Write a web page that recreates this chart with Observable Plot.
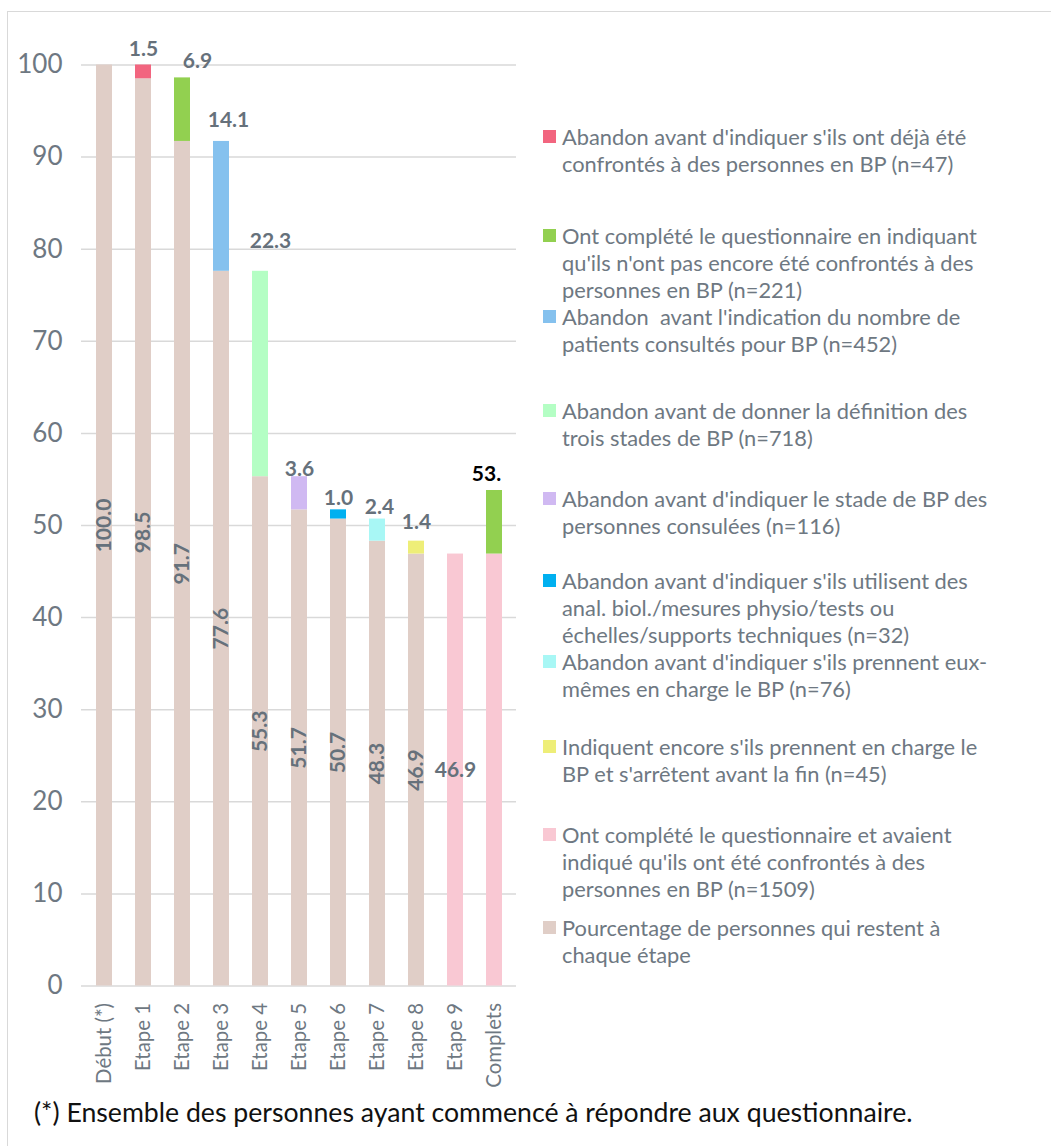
<!DOCTYPE html>
<html><head><meta charset="utf-8">
<script src="https://cdn.jsdelivr.net/npm/d3@7"></script>
<script src="https://cdn.jsdelivr.net/npm/@observablehq/plot@0.6"></script>
<style>
html,body{margin:0;padding:0;background:#fff;}
body{width:1051px;height:1146px;overflow:hidden;position:relative;font-family:Lato,"Open Sans",sans-serif;}
#frame{position:absolute;left:7px;top:11px;width:1100px;height:1200px;border:1px solid #d9d9d9;box-sizing:border-box;}
#chart{position:absolute;left:0;top:0;}
#legend{position:absolute;left:0;top:0;}
.item{position:absolute;left:543px;}
.sw{position:absolute;left:0;top:7px;width:13px;height:13px;}
.txt{position:absolute;left:19px;top:0;white-space:nowrap;line-height:27px;color:#6e7882;}
#caption{position:absolute;left:34px;top:1097px;line-height:30px;color:#111;white-space:nowrap;}
</style></head><body>
<div id="frame"></div>
<div id="chart"></div>
<div id="legend"></div>
<div id="caption">(*) Ensemble des personnes ayant commencé à répondre aux questionnaire.</div>
<script>
// ---------- data ----------
const categories = ["Début (*)","Etape 1","Etape 2","Etape 3","Etape 4","Etape 5","Etape 6","Etape 7","Etape 8","Etape 9","Complets"];

const seriesLines = [
  ["Abandon avant d'indiquer s'ils ont déjà été","confrontés à des personnes en BP (n=47)"],
  ["Ont complété le questionnaire en indiquant","qu'ils n'ont pas encore été confrontés à des","personnes en BP (n=221)"],
  ["Abandon  avant l'indication du nombre de","patients consultés pour BP (n=452)"],
  ["Abandon avant de donner la définition des","trois stades de BP (n=718)"],
  ["Abandon avant d'indiquer le stade de BP des","personnes consulées (n=116)"],
  ["Abandon avant d'indiquer s'ils utilisent des","anal. biol./mesures physio/tests ou","échelles/supports techniques (n=32)"],
  ["Abandon avant d'indiquer s'ils prennent eux-","mêmes en charge le BP (n=76)"],
  ["Indiquent encore s'ils prennent en charge le","BP et s'arrêtent avant la fin (n=45)"],
  ["Ont complété le questionnaire et avaient","indiqué qu'ils ont été confrontés à des","personnes en BP (n=1509)"],
  ["Pourcentage de personnes qui restent à","chaque étape"]
];
const seriesColors = ["#f2657f","#92d050","#85c1ee","#b4fec4","#d0b9f2","#00b0f0","#a8f7f5","#eeee78","#f9c8d3","#e0cec7"];

// remaining share at each step (beige)
const remainingCategories = ["Début (*)","Etape 1","Etape 2","Etape 3","Etape 4","Etape 5","Etape 6","Etape 7","Etape 8"];
const remainingValues = [100.0, 98.5, 91.7, 77.6, 55.3, 51.7, 50.7, 48.3, 46.9];

// drop-outs at each step
const dropCategories = ["Etape 1","Etape 2","Etape 3","Etape 4","Etape 5","Etape 6","Etape 7","Etape 8"];
const dropValues = [1.5, 6.9, 14.1, 22.3, 3.6, 1.0, 2.4, 1.4];
const dropSeries = [0, 1, 2, 3, 4, 5, 6, 7];

// completed questionnaires
const completedCategories = ["Etape 9","Complets","Complets"];
const completedValues = [46.9, 46.9, 6.9];
const completedSeries = [8, 8, 1];
const completsTotalLabel = "53.";

// ---------- layout (not data) ----------
// first-line centre of each legend entry
const legendLineCentres = [136, 235, 316, 410, 498, 580, 661, 746, 834, 927];
// manual nudges [dx, dy] of the drop-out labels, as placed in the original
const dropLabelNudge = [[0,-15.5],[15,-17],[7,-21],[10,-30],[0,-7],[0,-11.5],[2,-12],[0,-19]];

// ---------- helpers ----------
const FAMILY = "Lato, 'Open Sans', sans-serif";
const measureCtx = document.createElement("canvas").getContext("2d");
function fitSize(text, weight, targetWidth) {
  measureCtx.font = `${weight} 100px ${FAMILY}`;
  return 100 * targetWidth / measureCtx.measureText(text).width;
}
const xTickSize = fitSize("Etape 1", "normal", 68);
const legendSize = fitSize(seriesLines[0][0], "normal", 405);
const captionSize = fitSize(document.getElementById("caption").textContent, "normal", 879);

// ---------- build ----------
const names = seriesLines.map(l => l.join(" "));
const BASE = 9, PINK = 8;
const rows = [];
remainingCategories.forEach((c, i) => rows.push({cat: c, value: remainingValues[i], s: BASE, series: names[BASE]}));
dropCategories.forEach((c, i) => rows.push({cat: c, value: dropValues[i], s: dropSeries[i], series: names[dropSeries[i]]}));
completedCategories.forEach((c, i) => rows.push({cat: c, value: completedValues[i], s: completedSeries[i], series: names[completedSeries[i]]}));

const order = [names[BASE], names[PINK], ...names.slice(0, 8)];
const stackOpts = {x: "cat", y: "value", z: "series", order};
const labelColor = "#66717b";
const axisColor = "#6e7882";
const LBL = 21;

const dropLabelMarks = dropCategories.map((cat, i) =>
  Plot.text(rows, Plot.stackY2({...stackOpts,
    text: d => (d.cat === cat && d.s === dropSeries[i]) ? d.value.toFixed(1) : null,
    dx: dropLabelNudge[i][0], dy: dropLabelNudge[i][1],
    fontSize: LBL, fontWeight: "bold", fill: labelColor})));

const W = 540, H = 1100;
const plot = Plot.plot({
  width: W, height: H,
  marginLeft: 81, marginRight: W - 516, marginTop: 64.5, marginBottom: H - 985.5,
  style: {fontFamily: FAMILY, background: "transparent"},
  x: {domain: categories, paddingInner: 0.59, paddingOuter: 0.28, label: null},
  y: {domain: [0, 100], label: null},
  color: {domain: names, range: seriesColors},
  marks: [
    Plot.gridY({ticks: d3.range(0, 101, 10), stroke: "#d9d9d9", strokeOpacity: 1, strokeWidth: 1.5}),
    Plot.axisY({ticks: d3.range(0, 101, 10), tickSize: 0, tickPadding: 19, fontSize: 26, fill: axisColor, label: null}),
    Plot.axisX({tickRotate: -90, tickSize: 0, tickPadding: 17, fontSize: xTickSize, fill: axisColor, label: null}),
    Plot.barY(rows, Plot.stackY({...stackOpts, fill: "series"})),
    // remaining % labels (rotated, in the middle of the beige segment)
    Plot.text(rows, Plot.stackY({...stackOpts, text: d => d.s === BASE ? d.value.toFixed(1) : null,
      rotate: -90, fontSize: LBL, fontWeight: "bold", fill: labelColor})),
    // step 9 completed label (horizontal)
    Plot.text(rows, Plot.stackY({...stackOpts, text: d => d.s === PINK && d.cat === "Etape 9" ? d.value.toFixed(1) : null,
      fontSize: LBL, fontWeight: "bold", fill: labelColor})),
    // drop-out labels above each bar
    ...dropLabelMarks,
    // total of completed questionnaires
    Plot.text(rows, Plot.stackY2({...stackOpts, text: d => (d.cat === "Complets" && d.s === 1) ? completsTotalLabel : null,
      dy: -16.5, dx: -8, fontSize: LBL, fontWeight: "bold", fill: "#000"}))
  ]
});
document.getElementById("chart").appendChild(plot);

// ---------- legend ----------
const legend = document.getElementById("legend");
seriesLines.forEach((lines, i) => {
  const item = document.createElement("div");
  item.className = "item";
  item.style.top = (legendLineCentres[i] - 13.5) + "px";
  const sw = document.createElement("div");
  sw.className = "sw";
  sw.style.background = seriesColors[i];
  const txt = document.createElement("div");
  txt.className = "txt";
  txt.style.fontSize = legendSize + "px";
  txt.innerHTML = lines.map(l => l.replace(/ {2}/g, " &nbsp;")).join("<br>");
  item.appendChild(sw); item.appendChild(txt);
  legend.appendChild(item);
});
document.getElementById("caption").style.fontSize = captionSize + "px";
</script>
</body></html>
